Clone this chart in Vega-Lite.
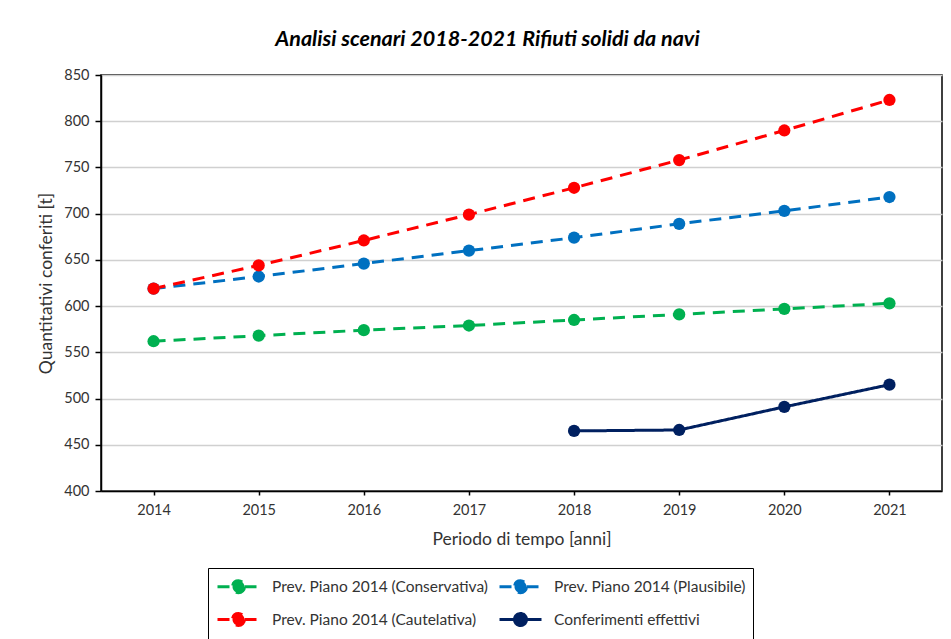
{
  "$schema": "https://vega.github.io/schema/vega-lite/v6.json",
  "width": 841,
  "height": 416,
  "autosize": "none",
  "padding": {"left": 101, "top": 75, "right": 9, "bottom": 148},
  "background": "white",
  "title": {
    "text": "Analisi scenari 2018-2021 Rifiuti solidi da navi",
    "font": "Lato",
    "fontSize": 21.5,
    "fontStyle": "italic",
    "fontWeight": "bold",
    "color": "black",
    "anchor": "middle",
    "dx": -34,
    "offset": 17
  },
  "config": {
    "view": {"stroke": "black", "strokeWidth": 1.5},
    "font": "Lato",
    "axis": {
      "labelFont": "Lato",
      "titleFont": "Lato",
      "labelColor": "#333333",
      "titleColor": "#333333",
      "labelFontSize": 14.5,
      "titleFontSize": 17.5,
      "titleFontWeight": "normal",
      "domainColor": "black",
      "domainWidth": 1.5,
      "tickColor": "black",
      "tickWidth": 1.5
    }
  },
  "data": {
    "values": [
      {"anno": "2014", "serie": "Prev. Piano 2014 (Conservativa)", "valore": 562},
      {"anno": "2015", "serie": "Prev. Piano 2014 (Conservativa)", "valore": 568},
      {"anno": "2016", "serie": "Prev. Piano 2014 (Conservativa)", "valore": 574},
      {"anno": "2017", "serie": "Prev. Piano 2014 (Conservativa)", "valore": 579},
      {"anno": "2018", "serie": "Prev. Piano 2014 (Conservativa)", "valore": 585},
      {"anno": "2019", "serie": "Prev. Piano 2014 (Conservativa)", "valore": 591},
      {"anno": "2020", "serie": "Prev. Piano 2014 (Conservativa)", "valore": 597},
      {"anno": "2021", "serie": "Prev. Piano 2014 (Conservativa)", "valore": 603},
      {"anno": "2014", "serie": "Prev. Piano 2014 (Plausibile)", "valore": 619},
      {"anno": "2015", "serie": "Prev. Piano 2014 (Plausibile)", "valore": 632},
      {"anno": "2016", "serie": "Prev. Piano 2014 (Plausibile)", "valore": 646},
      {"anno": "2017", "serie": "Prev. Piano 2014 (Plausibile)", "valore": 660},
      {"anno": "2018", "serie": "Prev. Piano 2014 (Plausibile)", "valore": 674},
      {"anno": "2019", "serie": "Prev. Piano 2014 (Plausibile)", "valore": 689},
      {"anno": "2020", "serie": "Prev. Piano 2014 (Plausibile)", "valore": 703},
      {"anno": "2021", "serie": "Prev. Piano 2014 (Plausibile)", "valore": 718},
      {"anno": "2014", "serie": "Prev. Piano 2014 (Cautelativa)", "valore": 619},
      {"anno": "2015", "serie": "Prev. Piano 2014 (Cautelativa)", "valore": 644},
      {"anno": "2016", "serie": "Prev. Piano 2014 (Cautelativa)", "valore": 671},
      {"anno": "2017", "serie": "Prev. Piano 2014 (Cautelativa)", "valore": 699},
      {"anno": "2018", "serie": "Prev. Piano 2014 (Cautelativa)", "valore": 728},
      {"anno": "2019", "serie": "Prev. Piano 2014 (Cautelativa)", "valore": 758},
      {"anno": "2020", "serie": "Prev. Piano 2014 (Cautelativa)", "valore": 790},
      {"anno": "2021", "serie": "Prev. Piano 2014 (Cautelativa)", "valore": 823},
      {"anno": "2018", "serie": "Conferimenti effettivi", "valore": 465},
      {"anno": "2019", "serie": "Conferimenti effettivi", "valore": 466},
      {"anno": "2020", "serie": "Conferimenti effettivi", "valore": 491},
      {"anno": "2021", "serie": "Conferimenti effettivi", "valore": 515}
    ]
  },
  "encoding": {
    "x": {
      "field": "anno",
      "type": "ordinal",
      "scale": {"type": "point", "padding": 0.5},
      "axis": {"title": "Periodo di tempo [anni]", "labelAngle": 0, "tickSize": 4, "labelPadding": 8, "titlePadding": 14, "grid": false}
    },
    "y": {
      "field": "valore",
      "type": "quantitative",
      "scale": {"domain": [400, 850], "nice": false, "zero": false},
      "axis": {"title": "Quantitativi conferiti [t]", "values": [400, 450, 500, 550, 600, 650, 700, 750, 800, 850], "tickSize": 6, "labelPadding": 6, "titlePadding": 8, "grid": true, "gridColor": "#d0d0d0", "gridWidth": 1.5}
    },
    "color": {
      "field": "serie",
      "type": "nominal",
      "scale": {
        "domain": ["Prev. Piano 2014 (Conservativa)", "Prev. Piano 2014 (Plausibile)", "Prev. Piano 2014 (Cautelativa)", "Conferimenti effettivi"],
        "range": ["#00B050", "#0070C0", "#FF0000", "#002060"]
      },
      "legend": {
        "title": null,
        "orient": "none",
        "legendX": 107,
        "legendY": 493,
        "columns": 2,
        "direction": "horizontal",
        "strokeColor": "black",
        "fillColor": "white",
        "padding": 7,
        "rowPadding": 8,
        "columnPadding": 5,
        "labelFont": "Lato",
        "labelFontSize": 15.5,
        "labelColor": "#333333",
        "labelLimit": 400,
        "symbolType": "M-2.1,0H-0.6M0.6,0H2.1M0.6,0A0.6,0.6,0,1,1,-0.6,0A0.6,0.6,0,1,1,0.6,0Z",
        "symbolSize": 400,
        "symbolStrokeWidth": 3,
        "symbolOpacity": 1,
        "symbolOffset": 12,
        "labelOffset": 22,
        "encode": {"symbols": {"update": {"fill": {"scale": "color", "field": "value"}, "fillOpacity": {"value": 1}}}}
      }
    }
  },
  "layer": [
    {
      "mark": {"type": "line", "strokeWidth": 3},
      "encoding": {
        "strokeDash": {
          "field": "serie",
          "type": "nominal",
          "scale": {
            "domain": ["Prev. Piano 2014 (Conservativa)", "Prev. Piano 2014 (Plausibile)", "Prev. Piano 2014 (Cautelativa)", "Conferimenti effettivi"],
            "range": [[12, 8], [12, 8], [12, 8], [1, 0]]
          },
          "legend": null
        }
      }
    },
    {
      "mark": {"type": "point", "filled": true, "size": 150, "opacity": 1}
    }
  ]
}
